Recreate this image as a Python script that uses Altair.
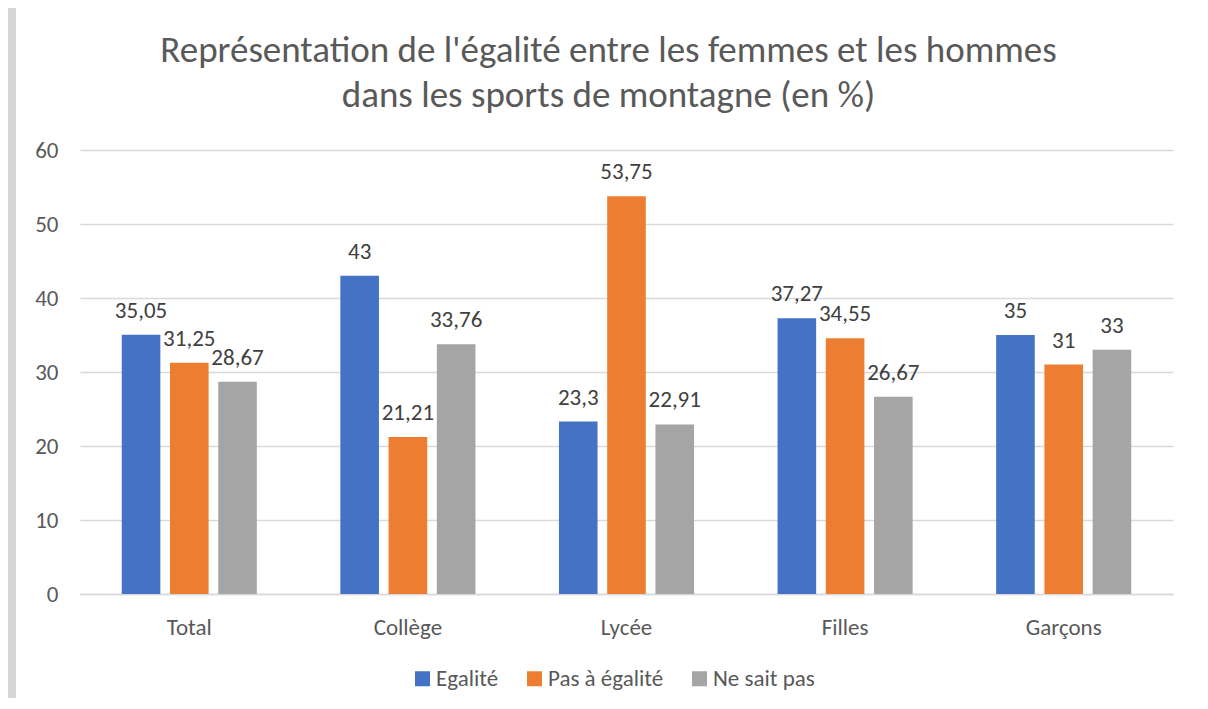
import altair as alt
import pandas as pd

categories = ["Total", "Collège", "Lycée", "Filles", "Garçons"]
series = ["Egalité", "Pas à égalité", "Ne sait pas"]
egalite = [35.05, 43, 23.3, 37.27, 35]
pas_egalite = [31.25, 21.21, 53.75, 34.55, 31]
ne_sait_pas = [28.67, 33.76, 22.91, 26.67, 33]
colors = ["#4472C4", "#ED7D31", "#A5A5A5"]
y_ticks = [0, 10, 20, 30, 40, 50, 60]
title_text = "Représentation de l'égalité entre les femmes et les hommes\ndans les sports de montagne (en %)"

FONT = "Carlito, Lato, sans-serif"
W, H = 1093, 444
PAD_L, PAD_T, PAD_R, PAD_B = 72, 142, 26, 104

rows = []
for s, vals in zip(series, [egalite, pas_egalite, ne_sait_pas]):
    for c, v in zip(categories, vals):
        rows.append({"cat": c, "series": s, "value": v, "label": str(v).replace(".", ",")})
df = pd.DataFrame(rows)

base = alt.Chart(df).encode(
    x=alt.X("cat:N", sort=categories,
            scale=alt.Scale(paddingInner=0.382, paddingOuter=0.191),
            axis=alt.Axis(title=None, labelAngle=0, ticks=False, domain=True,
                          domainColor="#D9D9D9", domainWidth=1.5,
                          labelFont=FONT, labelFontSize=23, labelColor="#595959",
                          labelPadding=22, grid=False)),
    xOffset=alt.XOffset("series:N", sort=series,
                        scale=alt.Scale(paddingInner=0.2, paddingOuter=0)),
)

bars = base.mark_bar().encode(
    y=alt.Y("value:Q", scale=alt.Scale(domain=[0, 60], nice=False),
            axis=alt.Axis(title=None, values=y_ticks, ticks=False, domain=False,
                          grid=True, gridColor="#D9D9D9", gridWidth=1.5,
                          labelFont=FONT, labelFontSize=23, labelColor="#595959",
                          labelPadding=22)),
    color=alt.Color("series:N", sort=series,
                    scale=alt.Scale(domain=series, range=colors),
                    legend=alt.Legend(title=None, orient="none", direction="horizontal",
                                      legendX=331, legendY=517,
                                      symbolType="square", symbolSize=225,
                                      symbolStrokeWidth=0, labelOffset=2,
                                      columnPadding=24,
                                      labelFont=FONT, labelFontSize=23,
                                      labelColor="#595959")),
)

labels = base.mark_text(baseline="alphabetic", dy=-17, font=FONT, fontSize=23,
                        color="#404040").encode(
    y=alt.Y("value:Q"),
    text="label:N",
)

title_df = pd.DataFrame({"t": [title_text]})
title = alt.Chart(title_df).mark_text(
    font=FONT, fontSize=37, color="#595959", align="center",
    baseline="alphabetic", lineBreak="\n", lineHeight=45,
).encode(x=alt.value(528.5), y=alt.value(-88), text="t:N")

strip_df = pd.DataFrame({"k": [0]})
strip = alt.Chart(strip_df).mark_rect(color="#D6D6D6").encode(
    x=alt.value(-PAD_L), x2=alt.value(-PAD_L + 8),
    y=alt.value(-PAD_T), y2=alt.value(H + PAD_B),
)

chart = alt.layer(bars, labels, title, strip).properties(
    width=W, height=H,
    autosize=alt.AutoSizeParams(type="none"),
    padding={"left": PAD_L, "top": PAD_T, "right": PAD_R, "bottom": PAD_B},
    background="white",
).configure_view(stroke=None)

chart.save("out.html", embed_options={"renderer": "svg", "actions": False})
